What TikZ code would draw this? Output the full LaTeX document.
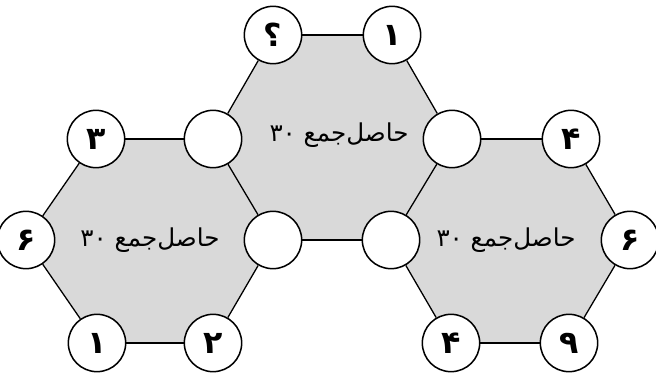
\documentclass[tikz,border=0pt]{standalone}
\usepackage{fontspec}
\newfontfamily\arabicfont[Script=Arabic]{DejaVu Sans}
\TeXXeTstate=1
\usetikzlibrary{backgrounds}
\definecolor{hexgray}{HTML}{D9D9D9}

\begin{document}
\begin{tikzpicture}[
    x=0.03cm, y=-0.03cm,
    vertex/.style={circle, draw=black, line width=1.3pt, fill=white, minimum size=1.72cm, inner sep=0pt, font=\arabicfont\bfseries\fontsize{27}{30}\selectfont},
    edge/.style={draw=black, line width=1.1pt},
    hexface/.style={fill=hexgray},
    sumlabel/.style={font=\arabicfont\fontsize{21}{24}\selectfont}
  ]
  \useasboundingbox (0,0) rectangle (656,377);

  % top hexagon
  \node[vertex] (qmark) at (273,35) {\beginR ؟\endR};
  \node[vertex] (one) at (392,35) {۱};
  \node[vertex] (midL) at (213,139) {};
  \node[vertex] (midR) at (452,139) {};
  \node[vertex] (botL) at (273,240) {};
  \node[vertex] (botR) at (391,240) {};

  % left hexagon
  \node[vertex] (three) at (96,139) {۳};
  \node[vertex] (sixL) at (26,240) {۶};
  \node[vertex] (oneL) at (97,343) {۱};
  \node[vertex] (two) at (213,343) {۲};

  % right hexagon
  \node[vertex] (fourT) at (571,139) {۴};
  \node[vertex] (sixR) at (630,240) {۶};
  \node[vertex] (nine) at (569,343) {۹};
  \node[vertex] (fourB) at (451,343) {۴};

  \node[sumlabel] (topsum) at (339,135) {\beginR حاصل‌جمع ۳۰\endR};
  \node[sumlabel] (leftsum) at (150,240) {\beginR حاصل‌جمع ۳۰\endR};
  \node[sumlabel] (rightsum) at (506,240) {\beginR حاصل‌جمع ۳۰\endR};

  \begin{scope}[on background layer]
    \fill[hexface] (qmark.center) -- (one.center) -- (midR.center) -- (botR.center) -- (botL.center) -- (midL.center) -- cycle;
    \fill[hexface] (three.center) -- (midL.center) -- (botL.center) -- (two.center) -- (oneL.center) -- (sixL.center) -- cycle;
    \fill[hexface] (midR.center) -- (fourT.center) -- (sixR.center) -- (nine.center) -- (fourB.center) -- (botR.center) -- cycle;
  \end{scope}

  \draw[edge] (qmark) -- (one);
  \draw[edge] (one) -- (midR);
  \draw[edge] (midR) -- (botR);
  \draw[edge] (botR) -- (botL);
  \draw[edge] (botL) -- (midL);
  \draw[edge] (midL) -- (qmark);
  \draw[edge] (three) -- (midL);
  \draw[edge] (botL) -- (two);
  \draw[edge] (two) -- (oneL);
  \draw[edge] (oneL) -- (sixL);
  \draw[edge] (sixL) -- (three);
  \draw[edge] (midR) -- (fourT);
  \draw[edge] (fourT) -- (sixR);
  \draw[edge] (sixR) -- (nine);
  \draw[edge] (nine) -- (fourB);
  \draw[edge] (fourB) -- (botR);
\end{tikzpicture}
\end{document}
